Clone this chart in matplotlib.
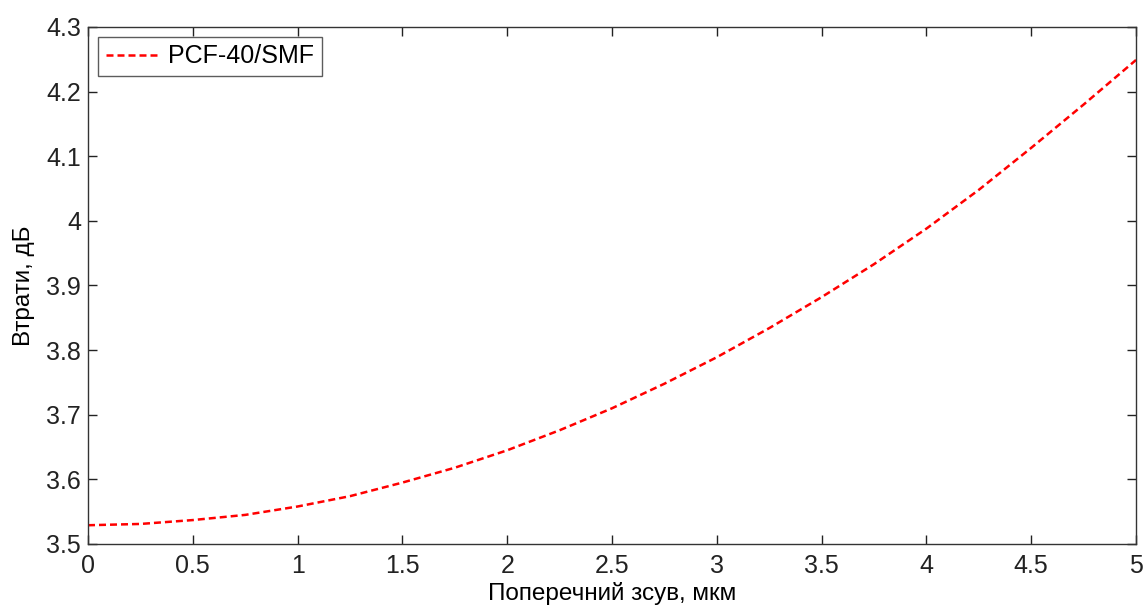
import matplotlib
matplotlib.use("Agg")
import matplotlib.pyplot as plt

# Поперечний зсув, мкм
zsuv = [0.0, 0.25, 0.5, 0.75, 1.0, 1.25, 1.5, 1.75, 2.0, 2.25, 2.5,
        2.75, 3.0, 3.25, 3.5, 3.75, 4.0, 4.25, 4.5, 4.75, 5.0]
# Втрати, дБ
vtraty = [3.529, 3.531, 3.537, 3.545, 3.558, 3.574, 3.595, 3.618, 3.645, 3.676, 3.710,
          3.748, 3.789, 3.834, 3.882, 3.933, 3.988, 4.048, 4.113, 4.180, 4.249]

xticks = [0, 0.5, 1, 1.5, 2, 2.5, 3, 3.5, 4, 4.5, 5]
xtick_labels = ["0", "0.5", "1", "1.5", "2", "2.5", "3", "3.5", "4", "4.5", "5"]
yticks = [3.5, 3.6, 3.7, 3.8, 3.9, 4.0, 4.1, 4.2, 4.3]
ytick_labels = ["3.5", "3.6", "3.7", "3.8", "3.9", "4", "4.1", "4.2", "4.3"]

plt.rcParams['font.family'] = ['Liberation Sans', 'DejaVu Sans']

fig = plt.figure(figsize=(11.43, 6.08), dpi=100)
ax = fig.add_axes([0.077, 0.1053, 0.9169, 0.8503])

ax.plot(zsuv, vtraty, color="red", linestyle=(0, (2.8, 1.6)), linewidth=1.8,
        label="PCF-40/SMF")

ax.set_xlim(0, 5)
ax.set_ylim(3.5, 4.3)
ax.set_xticks(xticks)
ax.set_xticklabels(xtick_labels)
ax.set_yticks(yticks)
ax.set_yticklabels(ytick_labels)
ax.tick_params(direction="in", length=6.5, width=1, top=True, right=True,
               labelsize=18, colors="#222222")
ax.tick_params(axis="x", pad=7)
ax.tick_params(axis="y", pad=5)
for s in ax.spines.values():
    s.set_color("#333333")
    s.set_linewidth(1)

ax.set_xlabel("Поперечний зсув, мкм", fontsize=17.5, labelpad=3)
ax.set_ylabel("Втрати, дБ", fontsize=17.5, labelpad=8)

leg = ax.legend(loc="upper left", fontsize=18, frameon=True, fancybox=False,
                handlelength=2.1, handletextpad=0.4, borderaxespad=0.4,
                borderpad=0.3)
leg.get_frame().set_edgecolor("#333333")
leg.get_frame().set_linewidth(1)

fig.savefig("out.png", dpi=100)
